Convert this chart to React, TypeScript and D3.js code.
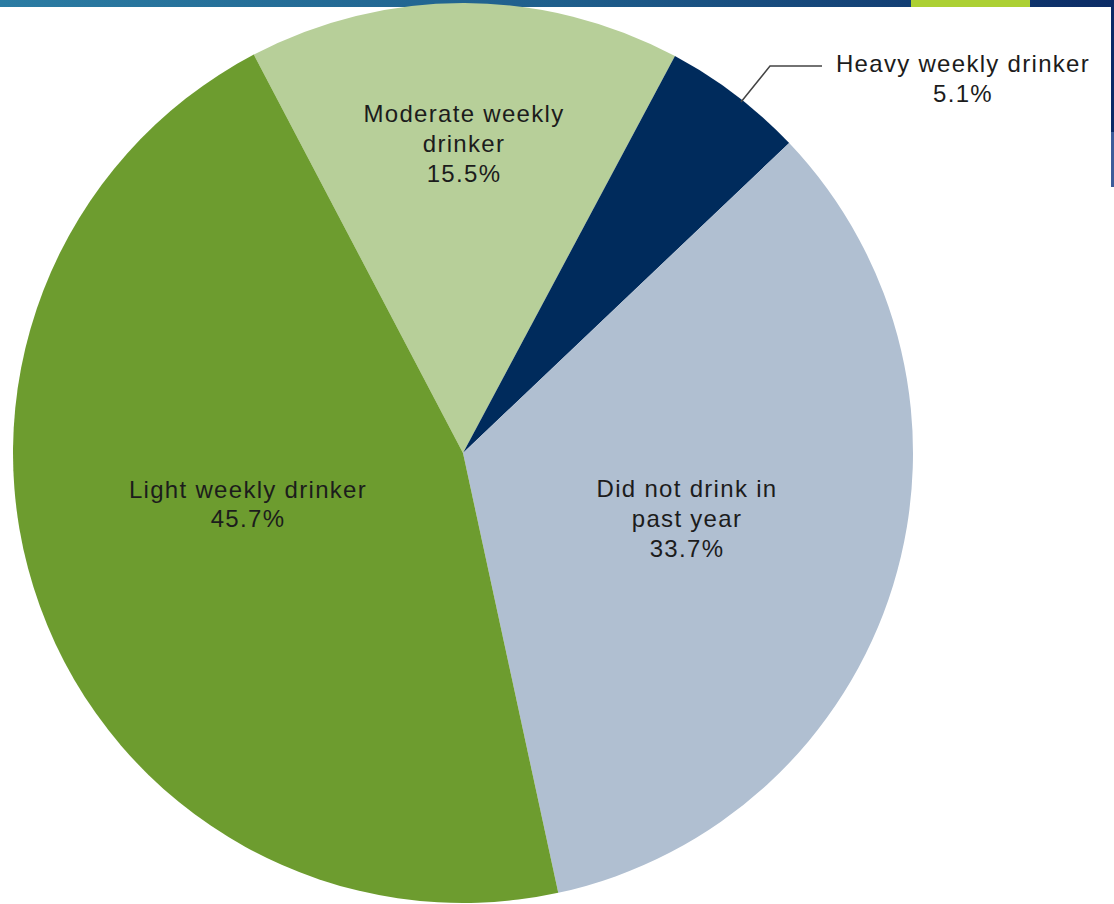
import React from "react";
import * as d3 from "d3";

const categories = ["Moderate weekly drinker", "Heavy weekly drinker", "Did not drink in past year", "Light weekly drinker"];
const values = [15.5, 5.1, 33.7, 45.7];
const colors = ["#b7cf99", "#002b5c", "#b0bfd1", "#6d9c2f"];
const labelLines = [
  ["Moderate weekly", "drinker", "15.5%"],
  ["Heavy weekly drinker", "5.1%"],
  ["Did not drink in", "past year", "33.7%"],
  ["Light weekly drinker", "45.7%"],
];

export default function App() {
  const W = 1114, H = 904;
  const cx = 463, cy = 453, r = 450;
  const start = (-27.7 * Math.PI) / 180;
  const pie = d3.pie<number>().sort(null).value((d) => d).startAngle(start).endAngle(start + 2 * Math.PI);
  const arcs = pie(values);
  const arc = d3.arc<d3.PieArcDatum<number>>().innerRadius(0).outerRadius(r);
  const labelPos: [number, number, number][] = [
    [464, 122, 30],
    [963, 72, 30],
    [687, 497, 30],
    [248, 498, 29],
  ];
  const font = "Liberation Sans, Arial, sans-serif";
  return (
    <svg width={W} height={H} style={{ position: "absolute", left: 0, top: 0, background: "#fff" }}>
      <defs>
        <linearGradient id="topbar" x1="0" x2="1" y1="0" y2="0">
          <stop offset="0" stopColor="#2b7ca3" />
          <stop offset="0.5" stopColor="#1f5f8c" />
          <stop offset="1" stopColor="#0c2c66" />
        </linearGradient>
      </defs>
      <rect x={0} y={0} width={W} height={7} fill="url(#topbar)" />
      <rect x={911} y={0} width={119} height={7} fill="#acd034" />
      <rect x={1111} y={0} width={3} height={132} fill="#0c2a66" />
      <rect x={1111} y={132} width={3} height={55} fill="#3d5c9a" />
      <g transform={`translate(${cx},${cy})`}>
        {arcs.map((a, i) => (
          <path key={categories[i]} d={arc(a) || ""} fill={colors[i]} />
        ))}
      </g>
      <polyline points="741,102 770,66 822,66" fill="none" stroke="#444" strokeWidth={1.5} />
      {labelLines.map((lines, i) => (
        <text key={i} textAnchor="middle" fontFamily={font} fontSize={24} letterSpacing={1.3} fill="#1c1c1c">
          {lines.map((t, j) => (
            <tspan key={j} x={labelPos[i][0]} y={labelPos[i][1] + j * labelPos[i][2]}>
              {t}
            </tspan>
          ))}
        </text>
      ))}
    </svg>
  );
}
